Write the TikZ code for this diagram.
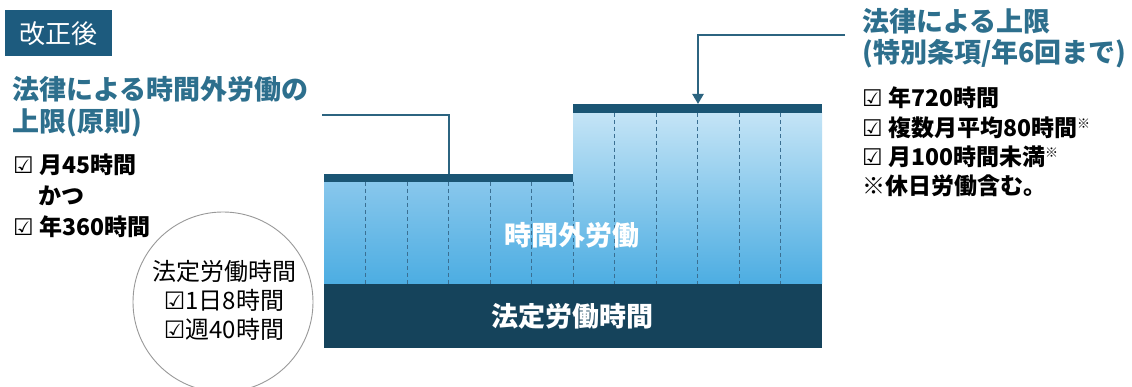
\documentclass[tikz,border=0pt]{standalone}
\usepackage{fontspec}
\setmainfont{Noto Sans CJK JP}
\newfontfamily\symfont{DejaVu Sans}
\usetikzlibrary{arrows.meta}
\definecolor{Tag}{HTML}{1D5B7E}
\definecolor{Head}{HTML}{2D6F8D}
\definecolor{Navy}{HTML}{15435B}
\definecolor{Bar}{HTML}{1A5574}
\definecolor{Wire}{HTML}{2C6480}
\definecolor{SkyTop}{HTML}{C4E4F6}
\definecolor{SkyMid}{HTML}{88C7EC}
\definecolor{SkyLow}{HTML}{4CADE2}
\definecolor{Dash}{HTML}{3A6F92}
\newcommand{\chk}{{\symfont\bfseries ☑}}
\newcommand{\px}[2]{\fontsize{#1}{#2}\selectfont}

\begin{document}
\begin{tikzpicture}[x=1pt,y=-1pt,
        tag/.style={fill=Tag,text=white,font=\px{26}{30},minimum width=107,minimum height=46,
                    inner sep=0,anchor=north west},
        head/.style={text=Head,font=\px{27}{32}\bfseries,align=left,inner sep=0,anchor=west},
        items/.style={text=black,font=\px{23}{31}\bfseries,align=left,inner sep=0,anchor=west},
        wire/.style={Wire,line width=2.2},
        grid/.style={Dash,line width=0.8,dash pattern=on 4 off 3}
      ]
        \useasboundingbox[fill=white] (0,0) rectangle (1132,387);
        % labels on the left
        \node[tag] (after) at (5,10) {改正後};
        \node[head] (lhead) at (12,107) {法律による時間外労働の\\上限(原則)};
        \node[items] (lrule) at (13,196) {\chk\ 月45時間\\\hspace{25pt}かつ\\\chk\ 年360時間};
        \node[circle,draw=gray!80,line width=0.9,minimum size=180] (legal) at (223,302) {};
        \node[font=\px{24}{29},align=center,inner sep=0] (legaltxt) at (224,300)
            {法定労働時間\\{\symfont ☑}1日8時間\\{\symfont ☑}週40時間};
        % labels on the right
        \node[head,font=\px{27}{31}\bfseries] (rhead) at (862,38) {法律による上限\\(特別条項/年6回まで)};
        \node[items,font=\px{23}{29.3}\bfseries] (rrule) at (862,142)
            {\chk\ 年720時間\\\chk\ 複数月平均80時間{\px{13}{13}\raisebox{8pt}{※}}\\
             \chk\ 月100時間未満{\px{13}{13}\raisebox{8pt}{※}}\\※休日労働含む。};
        % the blocks
        \shade[top color=SkyMid,bottom color=SkyLow] (324,182) rectangle (573,284);
        \shade[top color=SkyTop,bottom color=SkyLow] (573,113) rectangle (822,284);
        \fill[Bar] (324,174) rectangle (573,182);
        \fill[Bar] (573,104) rectangle (822,113);
        \foreach \i in {1,...,6} \draw[grid] (324+41.5*\i,182) -- (324+41.5*\i,284);
        \foreach \i in {7,...,11} \draw[grid] (324+41.5*\i,113) -- (324+41.5*\i,284);
        \fill[Navy] (324,284) rectangle (822,348);
        \node[text=white,font=\px{27}{30}\bfseries] (overtime) at (572,235) {時間外労働};
        \node[text=white,font=\px{27}{30}\bfseries] (statutory) at (572,316) {法定労働時間};
        % connectors
        \coordinate (lfrom) at (322,115);
        \coordinate (lbar) at (449,174);
        \coordinate (rfrom) at (845,35);
        \coordinate (rbar) at (698,104);
        \draw[wire] (lfrom) -| (lbar);
        \draw[wire,-{Triangle[width=11pt,length=10pt]}] (rfrom) -| (rbar);
      \end{tikzpicture}
\end{document}
